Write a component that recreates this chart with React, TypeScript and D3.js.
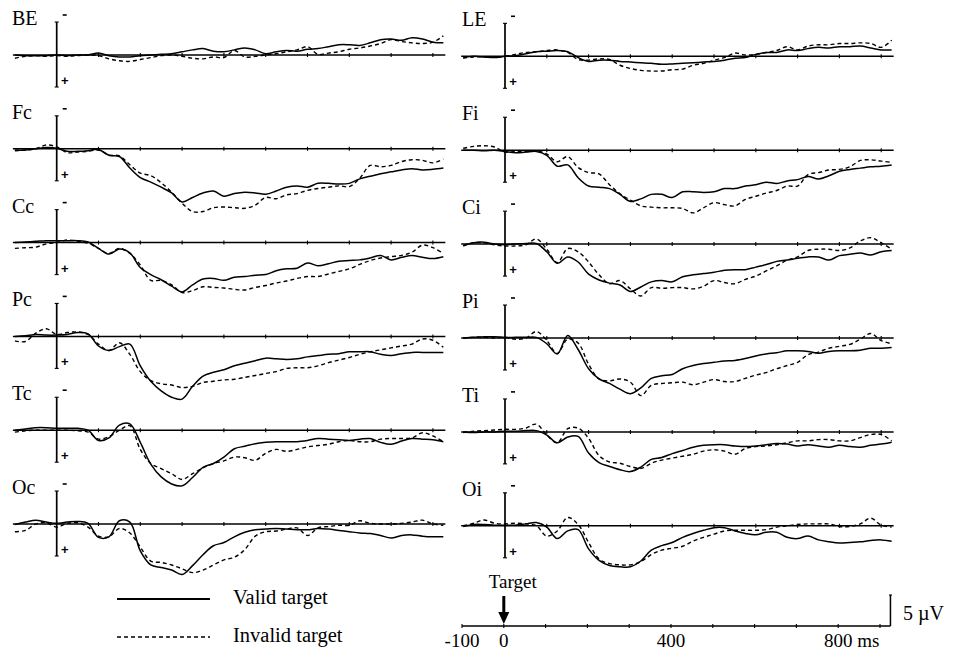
import * as d3 from "d3";

// sample times (ms), one value per 25 ms
const times = [
  -100, -75, -50, -25, 0, 25, 50, 75, 100, 125, 150, 175, 200, 225, 250, 275, 300, 325, 350, 375, 400,
  425, 450, 475, 500, 525, 550, 575, 600, 625, 650, 675, 700, 725, 750, 775, 800, 825, 850, 875, 900, 925,
];

// amplitudes in µV (positive plotted downwards)
const beValid = [0, 0.1, 0.1, 0.1, 0, 0.1, 0, 0, -0.3, 0.1, 0.3, 0.3, 0.1, 0, -0.1, -0.2, -0.5, -0.8, -1.0, -0.6, -0.5, -0.8, -1.1, -0.8, -0.2, -0.5, -0.7, -0.6, -0.9, -1.0, -1.3, -1.6, -1.6, -1.5, -1.9, -2.4, -2.5, -2.3, -2.7, -2.5, -2.0, -1.9];
const beInvalid = [0.5, 0.2, 0.1, 0.2, 0.1, 0.2, 0.1, 0, 0.1, 0.6, 0.9, 1.0, 0.7, 0.4, 0.1, 0, 0.2, 0.5, 0.6, 0.3, 0.4, -0.7, 0.3, 0.2, 0, -0.2, -0.5, -0.8, -1.3, -0.1, -0.3, -0.5, -0.9, -1.1, -1.4, -1.8, -2.4, -2.1, -1.9, -1.8, -2.0, -3.0];
const fcValid = [0.2, 0.2, 0, -0.2, -0.1, 0.4, 0.4, 0.3, 0.1, 1.0, 1.2, 3.0, 4.5, 5.2, 6.0, 6.9, 8.3, 7.6, 6.9, 6.6, 7.4, 7.0, 6.8, 6.9, 7.1, 6.6, 6.0, 5.8, 6.0, 5.4, 5.4, 5.5, 5.4, 4.7, 4.3, 3.9, 3.6, 3.3, 3.1, 3.3, 3.2, 3.0];
const fcInvalid = [0.3, 0.2, 0, -0.6, -0.3, 0.6, 0.5, 0.4, 0.2, 1.0, 1.1, 2.5, 3.8, 4.2, 5.3, 6.8, 8.5, 9.8, 9.8, 9.2, 9.1, 9.2, 9.3, 8.8, 7.6, 7.8, 7.2, 7.0, 6.5, 6.2, 6.0, 5.8, 5.9, 4.6, 2.6, 2.8, 2.6, 2.0, 1.7, 1.8, 2.2, 1.6];
const ccValid = [0, -0.1, -0.2, -0.3, -0.3, -0.3, -0.3, -0.1, 0.9, 1.8, 1.0, 1.6, 3.9, 5.0, 5.8, 6.8, 7.7, 6.6, 5.7, 5.6, 5.9, 5.4, 5.3, 5.1, 5.0, 4.4, 4.1, 4.0, 3.2, 3.6, 3.3, 2.9, 2.8, 2.7, 2.4, 2.0, 2.7, 2.3, 2.0, 2.3, 2.5, 2.2];
const ccInvalid = [0.9, 0.8, 0.7, 0.2, 0, -0.4, -0.2, 0.1, 0.9, 1.7, 0.9, 1.7, 3.5, 5.9, 5.9, 6.6, 7.8, 7.5, 6.9, 7.0, 7.1, 7.3, 7.4, 7.0, 6.7, 6.3, 6.0, 5.6, 5.3, 5.3, 4.9, 4.5, 4.1, 3.4, 2.8, 2.4, 2.2, 2.0, 1.5, 0.4, 0.8, 1.7];
const pcValid = [0, -0.1, -0.3, -0.2, -0.2, -0.3, -0.6, -0.4, 1.5, 2.2, 1.6, 1.2, 4.6, 7.0, 8.5, 9.5, 9.8, 7.8, 6.2, 5.6, 5.2, 4.6, 4.2, 3.8, 3.4, 3.5, 3.6, 3.5, 3.2, 3.0, 2.8, 2.7, 2.4, 2.4, 2.4, 2.8, 3.0, 2.7, 2.5, 2.5, 2.5, 2.5];
const pcInvalid = [0.7, 0.8, -0.5, -1.2, -0.3, -0.6, -0.7, -0.3, 1.2, 2.2, 1.0, 2.8, 5.5, 6.9, 7.4, 7.6, 8.0, 7.8, 7.2, 7.0, 6.8, 6.7, 6.4, 6.1, 5.8, 5.5, 5.0, 4.9, 4.9, 4.6, 4.1, 3.7, 3.3, 2.8, 2.4, 2.1, 1.8, 1.5, 1.2, 0.4, 0.6, 1.7];
const tcValid = [0, -0.2, -0.4, -0.4, -0.3, -0.3, -0.3, 0, 1.6, 1.2, -0.8, -1.0, 1.9, 5.3, 7.3, 8.4, 8.7, 7.4, 5.8, 5.2, 4.2, 2.9, 2.5, 2.1, 1.9, 1.8, 1.8, 1.8, 1.6, 1.3, 1.4, 1.5, 1.6, 1.4, 1.3, 1.9, 2.2, 1.7, 1.3, 1.4, 1.5, 1.8];
const tcInvalid = [0.3, 0.1, 0, 0, 0, 0, 0.1, 0.3, 1.4, 1.0, 0, -0.7, 3.0, 5.2, 6.0, 6.8, 7.7, 6.8, 5.9, 5.2, 4.8, 4.2, 4.3, 4.7, 3.6, 3.0, 3.3, 3.0, 2.6, 2.4, 2.2, 1.8, 1.6, 1.8, 1.8, 1.4, 1.3, 1.3, 1.2, 0.4, 0.9, 1.8];
const ocValid = [0.1, -0.3, -0.6, -0.3, -0.1, -0.3, -0.4, -0.1, 2.1, 2.0, -0.5, -0.3, 4.2, 6.4, 6.8, 7.2, 7.9, 6.5, 4.8, 3.4, 2.9, 2.0, 1.3, 0.9, 0.8, 0.7, 0.8, 0.9, 0.9, 0.7, 0.8, 1.0, 1.2, 1.4, 1.5, 1.8, 2.2, 1.8, 1.7, 1.9, 2.0, 2.0];
const ocInvalid = [1.2, 1.0, 0, -0.2, 0.5, -0.1, -0.2, 0.5, 1.9, 2.0, 0.7, 1.4, 3.6, 5.8, 6.0, 6.4, 7.0, 7.6, 7.2, 6.4, 5.6, 5.2, 4.0, 1.9, 1.2, 1.1, 0.8, 0.6, 1.8, 0.6, 0.4, 0.2, 0.2, -0.5, -0.1, 0, 0, -0.1, -0.3, -0.6, 0, 0.2];

const leValid = [0.2, 0, 0.1, 0.2, 0, -0.1, -0.4, -0.7, -0.8, -0.9, -0.7, 0.2, 0.8, 0.6, 0.6, 0.8, 0.9, 1.0, 1.1, 1.25, 1.2, 1.1, 1.0, 0.9, 0.8, 0.6, 0.3, 0.2, -0.3, -0.6, -0.6, -1.0, -0.9, -1.2, -1.4, -1.3, -1.5, -1.5, -1.6, -1.3, -1.0, -1.0];
const leInvalid = [0.3, 0.1, 0.1, 0.1, 0, -0.3, -0.6, -0.7, -0.9, -1.0, -0.6, 0.5, 0.6, 0.4, 0.5, 1.4, 1.9, 2.2, 2.3, 2.3, 2.1, 2.0, 1.4, 1.1, 0.6, 0.2, -0.5, -0.2, -0.3, -0.6, -0.9, -1.5, -1.0, -1.6, -1.8, -1.8, -2.0, -2.0, -2.1, -2.0, -1.4, -2.5];
const fiValid = [0, 0, 0.1, 0, 0.2, 0.4, 0.3, 0.2, 0.8, 2.5, 2.3, 4.3, 5.6, 5.8, 6.0, 6.9, 8.0, 7.6, 6.9, 6.9, 7.4, 6.5, 6.5, 6.6, 6.5, 6.0, 6.0, 5.6, 5.4, 5.0, 5.2, 4.8, 4.6, 4.1, 4.5, 4.0, 3.3, 3.0, 2.8, 2.6, 2.5, 2.3];
const fiInvalid = [-0.3, -0.6, -0.7, -0.5, 0.3, 0.2, 0.2, 0.1, 0.6, 1.8, 1.0, 2.7, 3.5, 3.7, 5.4, 6.8, 7.8, 8.7, 8.9, 9.0, 9.0, 9.1, 9.8, 9.0, 8.2, 8.5, 8.7, 7.7, 7.2, 6.7, 6.3, 5.6, 5.6, 3.8, 3.5, 3.1, 3.0, 2.6, 1.6, 1.5, 1.7, 1.9];
const ciValid = [0.2, -0.2, -0.3, 0, 0.1, 0, -0.1, -0.1, 1.2, 3.0, 2.0, 2.8, 4.7, 5.6, 6.1, 6.4, 7.4, 6.7, 5.9, 5.7, 5.9, 5.1, 4.8, 4.6, 4.4, 4.1, 4.0, 4.0, 3.6, 3.2, 2.7, 2.5, 2.2, 2.0, 2.0, 2.5, 1.8, 1.6, 1.4, 1.7, 1.2, 1.0];
const ciInvalid = [0.3, -0.2, -0.2, 0.1, 0.3, 0.3, 0.1, -0.8, 0.8, 2.9, 0.7, 1.2, 2.8, 4.8, 6.2, 5.7, 7.0, 8.1, 6.8, 6.9, 6.8, 6.8, 7.0, 6.6, 5.7, 6.0, 6.2, 5.5, 5.0, 4.2, 3.4, 2.5, 2.0, 1.0, 0.8, 0.8, 1.0, 0.6, -0.5, -1.0, -0.2, 0.8];
const piValid = [0, -0.1, -0.2, -0.2, -0.1, -0.1, -0.1, -0.1, 0.9, 2.5, -0.4, 1.8, 4.8, 6.4, 7.1, 8.0, 8.7, 7.8, 6.3, 5.9, 5.7, 4.8, 4.3, 4.0, 3.8, 3.6, 3.5, 3.2, 2.8, 2.5, 2.3, 2.0, 2.0, 2.1, 2.4, 2.1, 2.0, 2.0, 1.9, 1.6, 1.6, 1.5];
const piInvalid = [0, -0.1, -0.1, 0, -0.1, 0.2, 0, -1.0, 0.4, 2.4, 0.2, 0.8, 4.1, 6.4, 6.7, 6.4, 6.9, 9.0, 7.4, 7.1, 7.0, 6.9, 7.3, 6.9, 6.5, 6.8, 6.8, 6.3, 5.8, 5.4, 4.8, 4.3, 3.8, 2.6, 2.2, 1.6, 1.3, 1.0, 0.2, -0.7, 0.4, 0.9];
const tiValid = [0, 0.1, 0, 0, -0.1, -0.1, -0.2, -0.2, 0.5, 1.7, 0.8, 0.7, 3.3, 4.8, 5.4, 5.9, 6.2, 5.5, 4.3, 4.0, 3.4, 2.9, 2.4, 2.1, 2.0, 2.0, 2.2, 2.3, 2.2, 2.0, 1.8, 1.9, 2.2, 2.0, 2.2, 2.4, 2.1, 2.3, 2.4, 2.1, 1.9, 1.6];
const tiInvalid = [0.1, -0.1, -0.2, -0.3, -0.4, -0.4, -0.6, -1.2, 0.5, 1.7, -0.5, -0.6, 1.0, 3.7, 4.7, 4.9, 5.4, 5.7, 4.9, 4.4, 4.1, 3.8, 3.5, 3.0, 2.8, 3.0, 3.5, 2.6, 2.3, 2.2, 2.0, 1.7, 1.4, 1.4, 1.2, 1.2, 1.4, 1.4, 0.9, 0.4, 0.4, 1.4];
const oiValid = [0.1, -0.2, -0.2, -0.1, -0.1, -0.1, -0.3, -0.5, 0.2, 2.0, 0.8, 0.6, 3.6, 5.4, 6.2, 6.4, 6.4, 5.5, 3.8, 3.1, 2.6, 1.8, 1.2, 0.7, 0.3, 0.3, 0.8, 1.2, 1.4, 1.0, 1.0, 1.8, 2.0, 1.6, 2.2, 2.5, 2.7, 2.6, 2.5, 2.3, 2.2, 2.4];
const oiInvalid = [0, -0.4, -0.9, -0.4, -0.3, -0.4, -0.3, 0, 1.6, 0.8, -1.3, -0.2, 2.6, 5.2, 5.9, 6.1, 6.1, 5.6, 4.5, 3.8, 3.5, 3.2, 2.4, 1.8, 1.3, 0.8, 0.7, 0.7, 0.7, 0.6, 0.2, 0, -0.2, -0.3, -0.3, -0.3, 0.1, 0.1, -0.3, -1.2, -0.1, 0.2];

const leftPanels = [
  { name: "BE", valid: beValid, invalid: beInvalid },
  { name: "Fc", valid: fcValid, invalid: fcInvalid },
  { name: "Cc", valid: ccValid, invalid: ccInvalid },
  { name: "Pc", valid: pcValid, invalid: pcInvalid },
  { name: "Tc", valid: tcValid, invalid: tcInvalid },
  { name: "Oc", valid: ocValid, invalid: ocInvalid },
];
const rightPanels = [
  { name: "LE", valid: leValid, invalid: leInvalid },
  { name: "Fi", valid: fiValid, invalid: fiInvalid },
  { name: "Ci", valid: ciValid, invalid: ciInvalid },
  { name: "Pi", valid: piValid, invalid: piInvalid },
  { name: "Ti", valid: tiValid, invalid: tiInvalid },
  { name: "Oi", valid: oiValid, invalid: oiInvalid },
];

const gridTicks = [100, 200, 300, 400, 500, 600, 700, 800, 900];
const timeTicks = [-100, 0, 100, 200, 300, 400, 500, 600, 700, 800, 900];
const timeLabels = [
  { t: -100, label: "-100" },
  { t: 0, label: "0" },
  { t: 400, label: "400" },
  { t: 800, label: "800" },
];
const legendItems = [
  { label: "Valid target", dash: null },
  { label: "Invalid target", dash: "4,3" },
];

const serif = "'Liberation Serif', 'Times New Roman', serif";
const sans = "'Liberation Sans', Arial, sans-serif";
const PX_PER_MS = 0.418;

function Panel({ name, valid, invalid, x0, base, labelX }) {
  const x = d3.scaleLinear().domain([-100, 925]).range([x0 - 100 * PX_PER_MS, x0 + 925 * PX_PER_MS]);
  const y = d3.scaleLinear().domain([-5, 5]).range([base - 32, base + 32]);
  const line = d3
    .line()
    .x((_, i) => x(times[i]))
    .y((d) => y(d))
    .curve(d3.curveCatmullRom.alpha(0.5));
  const yTop = y(-5.15);
  const yBot = y(5);
  return (
    <g>
      <text x={labelX} y={base - 30} fontFamily={serif} fontSize={20}>{name}</text>
      <line x1={x(-100) - 2} x2={x(925) + 2} y1={base} y2={base} stroke="#000" strokeWidth={1.5} />
      {gridTicks.map((t) => (
        <line key={t} x1={x(t)} x2={x(t)} y1={base - 2} y2={base + 2} stroke="#000" strokeWidth={1.1} />
      ))}
      <line x1={x0} x2={x0} y1={yTop} y2={yBot} stroke="#000" strokeWidth={1.7} />
      <line x1={x0 - 2} x2={x0 + 2} y1={yTop} y2={yTop} stroke="#000" strokeWidth={1.1} />
      <line x1={x0 - 2} x2={x0 + 2} y1={yBot} y2={yBot} stroke="#000" strokeWidth={1.1} />
      <line x1={x0 + 6} x2={x0 + 10} y1={base - 40} y2={base - 40} stroke="#000" strokeWidth={1.6} />
      <text x={x0 + 8} y={base + 30} fontFamily={sans} fontWeight="bold" fontSize={13} textAnchor="middle">+</text>
      <path d={line(valid)} fill="none" stroke="#000" strokeWidth={1.5} />
      <path d={line(invalid)} fill="none" stroke="#000" strokeWidth={1.4} strokeDasharray="4,3" />
    </g>
  );
}

export default function App() {
  const W = 961;
  const H = 652;
  const leftX0 = 56.7;
  const rightX0 = 505;
  const tx = d3.scaleLinear().domain([-100, 925]).range([462, 462 + 1025 * PX_PER_MS]);
  const axisY = 626;
  const arrowX = tx(0);

  return (
    <svg width={W} height={H} style={{ position: "absolute", left: 0, top: 0, background: "#fff" }}>
      <rect width={W} height={H} fill="#fff" />
      {leftPanels.map((p, i) => (
        <Panel key={p.name} {...p} x0={leftX0} base={55 + i * 93.8} labelX={12} />
      ))}
      {rightPanels.map((p, i) => (
        <Panel key={p.name} {...p} x0={rightX0} base={56.3 + i * 93.9} labelX={462} />
      ))}

      {/* legend */}
      {legendItems.map((d, i) => (
        <g key={d.label} transform={`translate(0,${599 + i * 38})`}>
          <line x1={117} x2={210} y1={0} y2={0} stroke="#000" strokeWidth={d.dash ? 1.3 : 1.8} strokeDasharray={d.dash || undefined} />
          <text x={233} y={5} fontFamily={serif} fontSize={20.5}>{d.label}</text>
        </g>
      ))}

      {/* time axis */}
      <line x1={tx(-100)} x2={tx(925)} y1={axisY} y2={axisY} stroke="#000" strokeWidth={1.5} />
      {timeTicks.map((t) => (
        <line key={t} x1={tx(t)} x2={tx(t)} y1={axisY - 2} y2={axisY + 2} stroke="#000" strokeWidth={1.1} />
      ))}
      {timeLabels.map((d) => (
        <text key={d.t} x={tx(d.t)} y={647} fontFamily={serif} fontSize={19} textAnchor="middle">{d.label}</text>
      ))}
      <text x={tx(800) + 19} y={647} fontFamily={serif} fontSize={19}>ms</text>

      {/* target marker */}
      <text x={arrowX + 9} y={588} fontFamily={serif} fontSize={19} textAnchor="middle">Target</text>
      <line x1={arrowX} x2={arrowX} y1={596} y2={613} stroke="#000" strokeWidth={3} />
      <path d={`M${arrowX - 5.5},${612} L${arrowX + 5.5},${612} L${arrowX},${624} Z`} fill="#000" />

      {/* amplitude scale */}
      <line x1={tx(925)} x2={tx(925)} y1={595} y2={axisY} stroke="#000" strokeWidth={1.5} />
      <line x1={tx(925) - 1.5} x2={tx(925) + 1.5} y1={595} y2={595} stroke="#000" strokeWidth={1.1} />
      <text x={903} y={620} fontFamily={serif} fontSize={20}>5 µV</text>
    </svg>
  );
}
